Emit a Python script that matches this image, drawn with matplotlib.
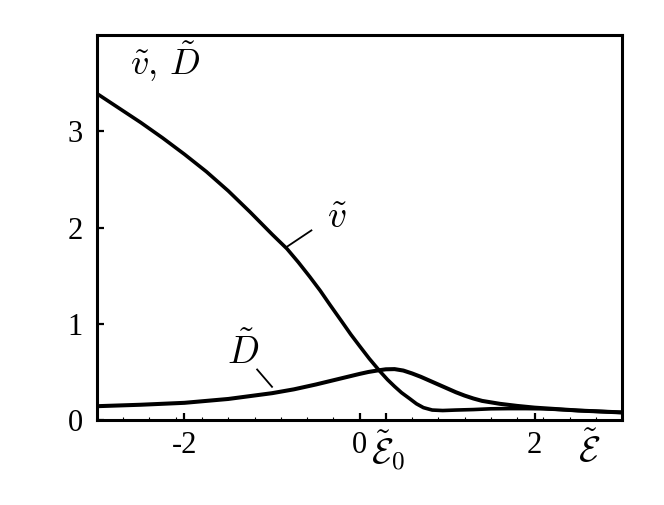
import matplotlib
matplotlib.use("Agg")
import matplotlib.pyplot as plt
from matplotlib.ticker import FixedLocator, NullFormatter
import numpy as np

plt.rcParams['mathtext.fontset'] = 'cm'
plt.rcParams['font.family'] = 'Liberation Serif'

# velocity curve v~(E~)
v_x = [-3.0, -2.75, -2.5, -2.25, -2.0, -1.75, -1.5, -1.25, -1.0, -0.83, -0.7, -0.57,
       -0.45, -0.34, -0.2, -0.1, 0.0, 0.11, 0.23, 0.32, 0.4, 0.48, 0.57, 0.65, 0.73,
       0.83, 0.95, 1.1, 1.3, 1.5, 1.7, 1.9, 2.1, 2.3, 2.5, 2.75, 3.0]
v_y = [3.39, 3.24, 3.09, 2.93, 2.76, 2.58, 2.38, 2.16, 1.93, 1.78, 1.64, 1.49,
       1.345, 1.20, 1.02, 0.89, 0.77, 0.64, 0.51, 0.42, 0.35, 0.285, 0.225, 0.17, 0.13,
       0.105, 0.10, 0.105, 0.11, 0.118, 0.12, 0.12, 0.118, 0.11, 0.10, 0.09, 0.08]

# diffusion curve D~(E~)
d_x = [-3.0, -2.5, -2.0, -1.5, -1.25, -1.0, -0.75, -0.5, -0.25, 0.0, 0.1, 0.2, 0.3,
       0.4, 0.5, 0.6, 0.7, 0.8, 0.9, 1.0, 1.1, 1.2, 1.3, 1.4, 1.6, 1.8, 2.0, 2.25,
       2.5, 2.75, 3.0]
d_y = [0.145, 0.16, 0.18, 0.22, 0.25, 0.28, 0.32, 0.37, 0.425, 0.48, 0.50, 0.515, 0.528,
       0.53, 0.515, 0.485, 0.45, 0.41, 0.37, 0.33, 0.29, 0.255, 0.225, 0.20, 0.17, 0.148,
       0.13, 0.115, 0.10, 0.09, 0.08]

xticks = [-2, 0, 2]
xticklabels = ['-2', '0', '2']
e0 = 0.3
yticks = [0, 1, 2, 3]

fig = plt.figure(figsize=(6.64, 5.05), dpi=100)
ax = fig.add_axes([0.146, 0.168, 0.791, 0.763])

ax.plot(v_x, v_y, color='black', lw=2.6, solid_joinstyle='round')
ax.plot(d_x, d_y, color='black', lw=2.9, solid_joinstyle='round')

ax.set_xlim(-3, 3)
ax.set_ylim(0, 4)

ax.xaxis.set_major_locator(FixedLocator(xticks + [e0]))
ax.set_xticklabels(xticklabels + [''])
minor = [round(-3 + 0.3 * k, 2) for k in range(21)]
ax.xaxis.set_minor_locator(FixedLocator([m for m in minor if abs(m - e0) > 1e-6]))
ax.xaxis.set_minor_formatter(NullFormatter())
ax.set_yticks(yticks)
ax.set_yticklabels([str(t) for t in yticks])

ax.tick_params(axis='both', which='major', direction='in', length=5, width=1.6,
               labelsize=22, top=False, right=False)
ax.tick_params(axis='x', which='major', pad=8)
ax.tick_params(axis='y', which='major', pad=10)
ax.tick_params(axis='x', which='minor', direction='in', length=2, width=0.8)
for s in ax.spines.values():
    s.set_linewidth(2.2)

# extra labels below the axis
trans = ax.get_xaxis_transform()
ax.text(e0 + 0.03, -0.08, r'$\tilde{\mathcal{E}}_0$', transform=trans, ha='center', va='center', fontsize=26)
ax.text(2.62, -0.08, r'$\tilde{\mathcal{E}}$', transform=trans, ha='center', va='center', fontsize=26)

# axis title inside
ax.text(0.13, 0.93, r'$\tilde{v},\,\tilde{D}$', transform=ax.transAxes,
        ha='center', va='center', fontsize=26)

# curve labels with pointer lines
ax.plot([-0.83, -0.55], [1.80, 1.97], color='black', lw=1.3)
ax.text(-0.26, 2.09, r'$\tilde{v}$', ha='center', va='center', fontsize=27)
ax.plot([-1.17, -1.0], [0.526, 0.346], color='black', lw=1.3)
ax.text(-1.33, 0.71, r'$\tilde{D}$', ha='center', va='center', fontsize=27)

fig.savefig('out.png', dpi=100)
